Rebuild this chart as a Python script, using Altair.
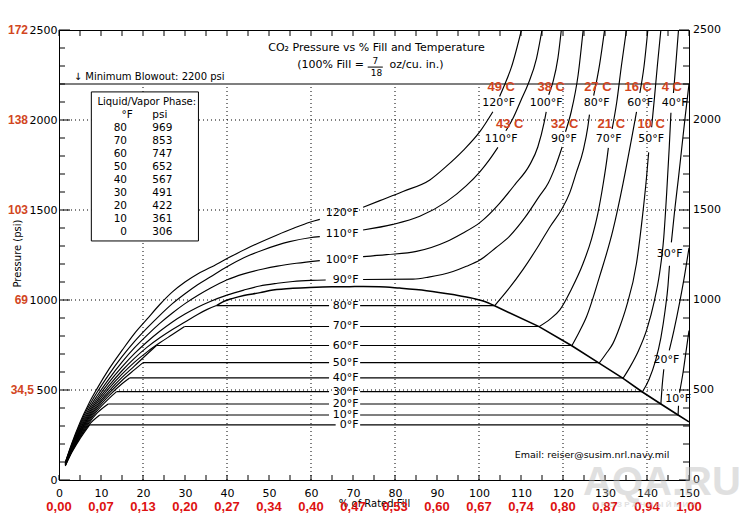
import altair as alt
import pandas as pd

FONT = "DejaVu Sans"
BOLD_FONT = "Liberation Sans"
RED_C = "#d2461e"
RED_D = "#dd1111"

# ---------------- axis values / labels ----------------
X_LABEL_VALUES = list(range(0, 151, 10))
Y_LABEL_VALUES = [0, 500, 1000, 1500, 2000, 2500]
X_MINOR_TICKS = list(range(0, 151, 5))
Y_MINOR_TICKS = list(range(0, 2501, 100))
DENSITY_LABELS = ["0,00", "0,07", "0,13", "0,20", "0,27", "0,34", "0,40", "0,47",
                  "0,53", "0,60", "0,67", "0,74", "0,80", "0,87", "0,94", "1,00"]
BAR_LABELS = ["69", "103", "138", "172"]
BAR_PSI = [1000, 1500, 2000, 2500]
BAR_LABEL_500 = "34,5"
GRID_X = [20, 40, 60, 80, 100, 120, 140]
GRID_Y = [500, 1000, 1500, 2000]
BLOWOUT_PSI = 2200

# ---------------- saturation (two-phase) data ----------------
SAT_TEMPS_F = [80, 70, 60, 50, 40, 30, 20, 10, 0]
SAT_PSI = [969, 853, 747, 652, 567, 491, 422, 361, 306]
DEW_FILL = [37.5, 29.9, 23.2, 20.0, 16.8, 13.7, 11.7, 9.7, 7.3]
BUBBLE_FILL = [103.7, 114.3, 122.1, 128.6, 134.3, 138.9, 143.3, 147.4, 150.0]

# ---------------- gas-side isotherms (fill %, psi) ----------------
GAS_0 = [(1.5, 78), (3, 151), (5, 229), (7.3, 306)]
GAS_10 = [(1.5, 80), (3, 155), (5, 236), (7, 303), (9.7, 361)]
GAS_20 = [(1.5, 82), (3, 158), (5, 243), (7, 313), (9, 370), (11.7, 422)]
GAS_30 = [(1.5, 84), (3, 162), (5, 250), (7, 322), (9, 382), (12, 455), (13.7, 491)]
GAS_40 = [(1.5, 85), (3, 165), (5, 256), (7, 331), (9, 393), (12, 470), (15, 535), (16.8, 567)]
GAS_50 = [(1.5, 87), (3, 168), (5, 262), (7, 340), (9, 404), (12, 484), (15, 553), (18, 613), (20, 652)]
GAS_60 = [(1.5, 88), (3, 172), (5, 268), (7, 348), (9, 414), (12, 497), (15, 570), (18, 634),
          (21, 700), (23.2, 747)]
GAS_70 = [(1.5, 90), (3, 176), (5, 275), (7, 357), (9, 425), (12, 512), (15, 588), (18, 655),
          (21, 712), (24, 762), (27, 808), (29.9, 853)]
GAS_80 = [(1.5, 91), (3, 180), (5, 282), (7, 367), (9, 437), (12, 527), (15, 607), (18, 677),
          (21, 738), (24, 790), (27, 836), (30, 878), (33, 920), (35.3, 948), (37.5, 969)]

# ---------------- supercritical isotherms (segments split by labels) ----------------
ISO90_A = [(1.5, 93), (3, 185), (5, 290), (7, 378), (9, 450), (12, 545), (15, 628), (18, 703),
           (21, 768), (24, 826), (27, 878), (30, 922), (33, 960), (36, 992), (40, 1027), (44, 1055),
           (47.8, 1078), (52, 1093), (55.7, 1103), (60, 1109), (63.5, 1111)]
ISO90_B = [(72.4, 1114), (84.3, 1116), (88, 1127), (93.8, 1158), (97, 1187), (100.2, 1222),
           (104, 1290), (107.3, 1355), (111, 1460), (114.3, 1574), (116.5, 1650), (118, 1730),
           (119.8, 1850)]
ISO90_C = [(120.6, 1935), (122, 2050), (123.6, 2250), (124.8, 2500)]

ISO100_A = [(1.5, 95), (3, 190), (5, 300), (7, 390), (9, 465), (12, 565), (15, 655), (18, 735),
            (21, 805), (24, 870), (27, 928), (30, 980), (33, 1025), (36, 1065), (39.9, 1111),
            (44, 1145), (48.6, 1172), (52, 1188), (56.5, 1204), (62.1, 1219)]
ISO100_B = [(72.4, 1241), (78, 1252), (85.1, 1270), (92.2, 1324), (96, 1370), (100.2, 1430),
            (104.9, 1537), (108.5, 1640), (112.1, 1752), (114, 1850), (115.5, 1985), (116, 2045)]
ISO100_C = [(116.6, 2140), (117.6, 2210), (118.8, 2345), (119.6, 2500)]

ISO110_A = [(1.5, 96), (3, 195), (5, 310), (7, 405), (9, 485), (12, 590), (15, 685), (18, 770),
            (21, 845), (24, 915), (27, 980), (30, 1035), (33, 1085), (36, 1128), (40, 1185),
            (44, 1235), (48.6, 1278), (54.9, 1324), (59.7, 1346), (62.1, 1352)]
ISO110_B = [(72.4, 1389), (79.5, 1420), (85.9, 1465), (92.2, 1545), (97, 1635), (100.2, 1712),
            (102.5, 1780), (104.5, 1848)]
ISO110_C = [(106.4, 1940), (108.1, 2010), (110, 2110), (111.7, 2200), (113.7, 2343), (115, 2500)]

ISO120_A = [(1.5, 97), (3, 200), (5, 320), (7, 420), (9, 505), (12, 620), (15, 720), (18, 815),
            (21, 895), (24, 975), (27, 1045), (30, 1100), (33, 1145), (36, 1180), (40, 1230),
            (44.6, 1285), (51.8, 1360), (56, 1400), (59.7, 1432), (62.1, 1448)]
ISO120_B = [(72.4, 1515), (76.4, 1552), (81.9, 1603), (88.3, 1667), (92.2, 1742), (96.2, 1830),
            (100.2, 1935), (103.3, 2046)]
ISO120_C = [(104.9, 2130), (106, 2190), (107.7, 2292), (110.1, 2500)]

# ---------------- liquid-side isotherms ----------------
LIQ80_A = [(103.7, 968), (107, 1060), (110.5, 1170), (114.4, 1310), (117, 1410), (119.6, 1500),
           (121.6, 1595), (123.2, 1710), (124.8, 1830), (125.9, 1960), (126.3, 2030)]
LIQ80_B = [(127.3, 2135), (128.7, 2306), (129.9, 2500)]
LIQ70_A = [(114.3, 852), (117, 895), (119.2, 944), (122, 1060), (124.8, 1204), (126.8, 1340),
           (128.3, 1481), (129.6, 1650), (130.5, 1790), (130.8, 1845)]
LIQ70_B = [(131.7, 1950), (132.8, 2100), (133.9, 2300), (135.1, 2500)]
LIQ60_A = [(122.1, 746), (123.8, 820), (125.6, 907), (128.7, 1130), (131.9, 1389), (134.3, 1648),
           (136.2, 1880), (137.5, 2045)]
LIQ60_B = [(138.3, 2150), (139.3, 2300), (140.2, 2500)]
LIQ50_A = [(128.6, 649), (130.2, 700), (131.9, 759), (133.5, 850), (135.1, 963), (137.5, 1204),
           (139.0, 1481), (139.9, 1685), (140.4, 1820)]
LIQ50_B = [(141.1, 1960), (141.8, 2130), (142.5, 2310), (143.3, 2500)]
LIQ40_A = [(134.3, 565), (136, 630), (138, 720), (140, 840), (141.7, 990), (143, 1150),
           (144, 1350), (144.7, 1600), (145.3, 1850), (145.7, 2040)]
LIQ40_B = [(146.3, 2150), (146.9, 2320), (147.5, 2500)]
LIQ30_A = [(138.9, 489), (140.5, 560), (142, 660), (143.3, 790), (144.3, 940), (145, 1080),
           (145.35, 1190)]
LIQ30_B = [(145.8, 1320), (146.6, 1500), (147.5, 1680), (148.3, 1850), (149.1, 2020), (150, 2200)]
LIQ20_A = [(143.3, 422), (143.6, 520), (144.0, 615)]
LIQ20_B = [(145.3, 720), (146.4, 830), (147.8, 990), (148.9, 1130), (150, 1290)]
LIQ10_A = [(147.4, 361), (147.5, 412)]
LIQ10_B = [(147.75, 485), (148.6, 600), (149.3, 715), (150, 830)]

# ---------------- saturation dome ----------------
DOME_TOP = [(37.5, 969), (39, 990), (41.4, 1009), (44, 1025), (47.9, 1041), (50.2, 1053),
            (55, 1064), (59.7, 1069), (65, 1073), (69.2, 1074), (72.5, 1075), (76.3, 1074),
            (81.1, 1066), (87.5, 1052), (93.8, 1030), (98.6, 1009), (101, 994), (103.7, 968)]
DOME_RIGHT = [(103.7, 968), (114.3, 852), (122.1, 746), (128.6, 649), (134.3, 565),
              (138.9, 489), (143.3, 422), (147.4, 361), (150, 323)]

# ---------------- labels ----------------
MID_SC_TEMPS = [120, 110, 100, 90]
MID_SC_PSI = [1483, 1367, 1222, 1111]
LABEL_RIGHT = 71.3          # right edge (fill %) of the mid-chart labels
PX_PER_PCT = 4.2

RIGHT_F_TEXT = ["120°F", "100°F", "80°F", "60°F", "40°F", "110°F", "90°F", "70°F", "50°F",
                "30°F", "20°F", "10°F"]
RIGHT_F_X = [104.7, 116.0, 128.0, 138.4, 146.6, 105.3, 120.2, 130.9, 141.0, 145.4, 144.6, 147.4]
RIGHT_F_PSI = [2097, 2097, 2097, 2097, 2097, 1893, 1893, 1893, 1893, 1256, 667, 448]
CELSIUS_TEXT = ["49 C", "38 C", "27 C", "16 C", "4 C", "43 C", "32 C", "21 C", "10 C"]
CELSIUS_X = [105.3, 117.2, 128.3, 137.9, 145.9, 107.3, 120.4, 131.5, 141.0]
CELSIUS_PSI = [2181, 2181, 2181, 2181, 2181, 1978, 1978, 1978, 1978]

TABLE_LEFT, TABLE_RIGHT = 7.7, 33.2
TABLE_TOP, TABLE_BOTTOM = 2156, 1328

# ======================================================================
XS = alt.Scale(domain=[0, 150], nice=False, zero=False)
YS = alt.Scale(domain=[0, 2500], nice=False, zero=False)
X_AX = alt.Axis(values=X_LABEL_VALUES, ticks=False, domain=False, grid=False, labelPadding=7,
                labelFlush=False, labelOverlap=False, format="d",
                labelFont=FONT, labelFontSize=11, labelColor="black",
                title="% of Rated Fill", titleFont=FONT, titleFontSize=10, titleFontWeight="normal",
                titleColor="black", titleX=315, titleY=23, titleBaseline="middle", titleAlign="center")
Y_AX = alt.Axis(values=Y_LABEL_VALUES, ticks=False, domain=False, grid=False, labelPadding=2,
                labelFlush=False, labelOverlap=False, format="d",
                labelFont=FONT, labelFontSize=11, labelColor="black",
                title="Pressure (psi)", titleFont=FONT, titleFontSize=10, titleFontWeight="normal",
                titleColor="black", titleX=-42, titleY=223, titleAngle=270,
                titleBaseline="middle", titleAlign="center")


def X(field="x"):
    return alt.X(f"{field}:Q", scale=XS, axis=X_AX)


def Y(field="psi"):
    return alt.Y(f"{field}:Q", scale=YS, axis=Y_AX)


def rows(name, pts):
    return [{"name": name, "i": i, "x": x, "psi": p} for i, (x, p) in enumerate(pts)]


# curve table
curve_sets = {
    "g0": GAS_0, "g10": GAS_10, "g20": GAS_20, "g30": GAS_30, "g40": GAS_40, "g50": GAS_50,
    "g60": GAS_60, "g70": GAS_70, "g80": GAS_80,
    "s90a": ISO90_A, "s90b": ISO90_B, "s90c": ISO90_C,
    "s100a": ISO100_A, "s100b": ISO100_B, "s100c": ISO100_C,
    "s110a": ISO110_A, "s110b": ISO110_B, "s110c": ISO110_C,
    "s120a": ISO120_A, "s120b": ISO120_B, "s120c": ISO120_C,
    "l80a": LIQ80_A, "l80b": LIQ80_B, "l70a": LIQ70_A, "l70b": LIQ70_B,
    "l60a": LIQ60_A, "l60b": LIQ60_B, "l50a": LIQ50_A, "l50b": LIQ50_B,
    "l40a": LIQ40_A, "l40b": LIQ40_B, "l30a": LIQ30_A, "l30b": LIQ30_B,
    "l20a": LIQ20_A, "l20b": LIQ20_B, "l10a": LIQ10_A, "l10b": LIQ10_B,
}
curve_rows = []
for k, v in curve_sets.items():
    curve_rows += rows(k, v)
curve_df = pd.DataFrame(curve_rows)

# horizontal two-phase lines, broken where their labels sit
h_rows = []
for t, p, xd, xb in zip(SAT_TEMPS_F, SAT_PSI, DEW_FILL, BUBBLE_FILL):
    lab = f"{t}°F"
    gap_l = LABEL_RIGHT - (len(lab) * 6.6 + 3) / PX_PER_PCT
    h_rows += [{"name": f"h{t}a", "i": 0, "x": xd, "psi": p},
               {"name": f"h{t}a", "i": 1, "x": gap_l, "psi": p},
               {"name": f"h{t}b", "i": 0, "x": LABEL_RIGHT + 0.4, "psi": p},
               {"name": f"h{t}b", "i": 1, "x": xb, "psi": p}]
h_df = pd.DataFrame(h_rows)

dome_top_df = pd.DataFrame(rows("dt", DOME_TOP))
dome_right_df = pd.DataFrame(rows("dr", DOME_RIGHT))

# ---------------- layers ----------------
grid_v = alt.Chart(pd.DataFrame({"x": GRID_X, "psi": 0, "psi2": BLOWOUT_PSI})).mark_rule(
    color="black", strokeWidth=1, strokeDash=[1, 3]).encode(x=X(), y=Y(), y2="psi2:Q")
grid_h = alt.Chart(pd.DataFrame({"psi": GRID_Y, "x": 0, "x2": 150})).mark_rule(
    color="black", strokeWidth=1, strokeDash=[1, 3]).encode(x=X(), x2="x2:Q", y=Y())

table_box = alt.Chart(pd.DataFrame({"x": [TABLE_LEFT], "x2": [TABLE_RIGHT],
                                    "psi": [TABLE_BOTTOM], "psi2": [TABLE_TOP]})).mark_rect(
    fill="white", stroke="black", strokeWidth=1).encode(x=X(), x2="x2:Q", y=Y(), y2="psi2:Q")

blowout = alt.Chart(pd.DataFrame({"psi": [BLOWOUT_PSI], "x": [0], "x2": [150]})).mark_rule(
    color="black", strokeWidth=1.1).encode(x=X(), x2="x2:Q", y=Y())

curves = alt.Chart(curve_df).mark_line(color="black", strokeWidth=1.15, interpolate="monotone",
                                       clip=True).encode(
    x=X(), y=Y(), detail="name:N", order=alt.Order("i:Q"))
horiz = alt.Chart(h_df).mark_line(color="black", strokeWidth=1.15, clip=True).encode(
    x=X(), y=Y(), detail="name:N", order=alt.Order("i:Q"))
dome_top = alt.Chart(dome_top_df).mark_line(color="black", strokeWidth=1.5, interpolate="monotone",
                                            clip=True).encode(x=X(), y=Y(), order=alt.Order("i:Q"))
dome_right = alt.Chart(dome_right_df).mark_line(color="black", strokeWidth=1.6, clip=True).encode(
    x=X(), y=Y(), order=alt.Order("i:Q"))

# ticks (inward)
tick_b = alt.Chart(pd.DataFrame({"x": X_MINOR_TICKS})).mark_rule(color="black").encode(
    x=X(), y=alt.value(450), y2=alt.value(445))
tick_t = alt.Chart(pd.DataFrame({"x": X_MINOR_TICKS})).mark_rule(color="black").encode(
    x=X(), y=alt.value(0), y2=alt.value(6))
minor_psi = [v for v in Y_MINOR_TICKS if v % 500 != 0]
tick_l = alt.Chart(pd.DataFrame({"psi": minor_psi})).mark_rule(color="black").encode(
    y=Y(), x=alt.value(0), x2=alt.value(6))
tick_lm = alt.Chart(pd.DataFrame({"psi": Y_LABEL_VALUES})).mark_rule(color="black").encode(
    y=Y(), x=alt.value(0), x2=alt.value(11))
tick_r = alt.Chart(pd.DataFrame({"psi": minor_psi})).mark_rule(color="black").encode(
    y=Y(), x=alt.value(630), x2=alt.value(624))
tick_rm = alt.Chart(pd.DataFrame({"psi": Y_LABEL_VALUES})).mark_rule(color="black").encode(
    y=Y(), x=alt.value(630), x2=alt.value(620))


def text_layer(df, size=11, align="center", baseline="middle", color="black", font=FONT,
               weight="normal", dx=0):
    return alt.Chart(df).mark_text(font=font, fontSize=size, align=align, baseline=baseline,
                                   color=color, fontWeight=weight, dx=dx).encode(
        x=X(), y=Y(), text="label:N")


right_axis_labels = text_layer(pd.DataFrame({"x": 150, "psi": Y_LABEL_VALUES,
                                             "label": [str(v) for v in Y_LABEL_VALUES]}),
                               align="left", dx=4)

mid_labels = text_layer(pd.DataFrame({
    "x": LABEL_RIGHT,
    "psi": MID_SC_PSI + SAT_PSI,
    "label": [f"{t}°F" for t in MID_SC_TEMPS + SAT_TEMPS_F]}), align="right")

right_f_labels = text_layer(pd.DataFrame({"x": RIGHT_F_X, "psi": RIGHT_F_PSI,
                                          "label": RIGHT_F_TEXT}))
celsius_labels = text_layer(pd.DataFrame({"x": CELSIUS_X, "psi": CELSIUS_PSI,
                                          "label": CELSIUS_TEXT}),
                            size=13, color=RED_C, font=BOLD_FONT, weight="bold")

# table text
table_hdr = text_layer(pd.DataFrame({"x": [20.9], "psi": [2102], "label": ["Liquid/Vapor Phase:"]}),
                       size=10)
table_colhdr = text_layer(pd.DataFrame({"x": [16.2, 24.0], "psi": [2028, 2028],
                                        "label": ["°F", "psi"]}), size=10.5)
row_psi = [1957 - 72.5 * i for i in range(len(SAT_TEMPS_F))]
table_f = text_layer(pd.DataFrame({"x": 16.2, "psi": row_psi,
                                   "label": [str(t) for t in SAT_TEMPS_F]}),
                     size=10.5, align="right")
table_p = text_layer(pd.DataFrame({"x": 24.6, "psi": row_psi,
                                   "label": [str(p) for p in SAT_PSI]}), size=10.5)

# title & annotations
title1 = text_layer(pd.DataFrame({"x": [75.6], "psi": [2398],
                                  "label": ["CO₂ Pressure vs % Fill and Temperature"]}))
title2a = text_layer(pd.DataFrame({"x": [72.6], "psi": [2306], "label": ["(100% Fill ="]}),
                     align="right")
title2b = text_layer(pd.DataFrame({"x": [78.7], "psi": [2306], "label": ["oz/cu. in.)"]}),
                     align="left")
frac = text_layer(pd.DataFrame({"x": [75.3, 75.6], "psi": [2326, 2262], "label": ["7", "18"]}),
                  size=9)
frac_bar = alt.Chart(pd.DataFrame({"x": [73.5], "x2": [77.1], "psi": [2294]})).mark_rule(
    color="black").encode(x=X(), x2="x2:Q", y=Y())
blow_label = text_layer(pd.DataFrame({"x": [3.5], "psi": [2239],
                                      "label": ["↓ Minimum Blowout: 2200 psi"]}),
                        size=10, align="left")
email = text_layer(pd.DataFrame({"x": [108.5], "psi": [139],
                                 "label": ["Email: reiser@susim.nrl.navy.mil"]}),
                   size=9.5, align="left")

# red secondary scales (g/cm³ under x, bar beside y)
red_bottom = alt.Chart(pd.DataFrame({"x": X_LABEL_VALUES, "label": DENSITY_LABELS})).mark_text(
    font=BOLD_FONT, fontSize=13, fontWeight="bold", color=RED_D, baseline="middle").encode(
    x=X(), y=alt.value(477), text="label:N")
red_left = alt.Chart(pd.DataFrame({"psi": BAR_PSI, "label": BAR_LABELS})).mark_text(
    font=BOLD_FONT, fontSize=12, fontWeight="bold", color=RED_C, baseline="middle",
    align="right").encode(y=Y(), x=alt.value(-31), text="label:N")
red_left_500 = alt.Chart(pd.DataFrame({"psi": [500], "label": [BAR_LABEL_500]})).mark_text(
    font=BOLD_FONT, fontSize=12, fontWeight="bold", color=RED_C, baseline="middle",
    align="right").encode(y=Y(), x=alt.value(-25), text="label:N")

# watermark
wm1 = alt.Chart(pd.DataFrame({"label": ["AQA.RU"]})).mark_text(
    font=BOLD_FONT, fontSize=40, fontWeight="bold", color="#bcbcbc", opacity=0.45,
    align="left", baseline="alphabetic").encode(x=alt.value(524), y=alt.value(465), text="label:N")
wm2 = alt.Chart(pd.DataFrame({"label": ["П Р О З Р А Ч Н Ы Й   М И Р"]})).mark_text(
    font=BOLD_FONT, fontSize=8, fontWeight="bold", color="#bcbcbc", opacity=0.45,
    align="left", baseline="middle").encode(x=alt.value(534), y=alt.value(475), text="label:N")

chart = alt.layer(
    grid_v, grid_h, table_box, blowout, curves, horiz, dome_top, dome_right,
    tick_b, tick_t, tick_l, tick_lm, tick_r, tick_rm,
    right_axis_labels, mid_labels, right_f_labels, celsius_labels,
    table_hdr, table_colhdr, table_f, table_p,
    title1, title2a, title2b, frac, frac_bar, blow_label, email,
    red_bottom, red_left, red_left_500, wm1, wm2,
).properties(
    width=630, height=450,
    padding={"left": 51, "top": 22, "right": 57, "bottom": 36},
    autosize=alt.AutoSizeParams(type="none"),
    background="white",
).configure_view(stroke="black", strokeWidth=1)

chart.save("out.html", embed_options={"renderer": "svg", "actions": False})
